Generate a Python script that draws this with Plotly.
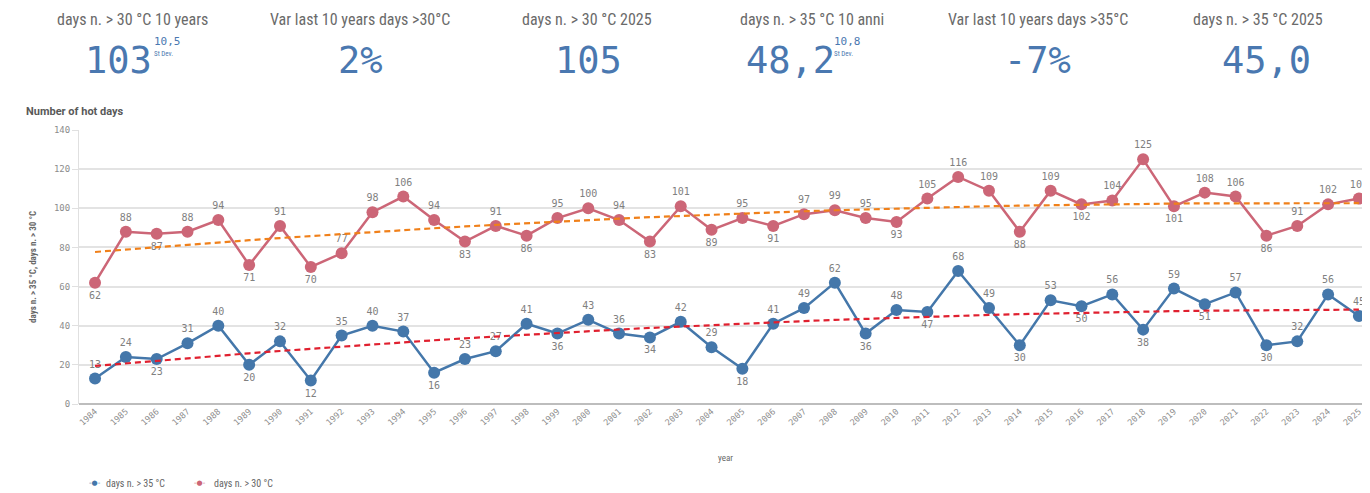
import numpy as np
import plotly.graph_objects as go

years = list(range(1984, 2026))
days_30 = [62, 88, 87, 88, 94, 71, 91, 70, 77, 98, 106, 94, 83, 91, 86, 95, 100, 94, 83, 101, 89,
           95, 91, 97, 99, 95, 93, 105, 116, 109, 88, 109, 102, 104, 125, 101, 108, 106, 86, 91, 102, 105]
days_35 = [13, 24, 23, 31, 40, 20, 32, 12, 35, 40, 37, 16, 23, 27, 41, 36, 43, 36, 34, 42, 29,
           18, 41, 49, 62, 36, 48, 47, 68, 49, 30, 53, 50, 56, 38, 59, 51, 57, 30, 32, 56, 45]

kpi_titles = ["days n. > 30 °C 10 years", "Var last 10 years days >30°C", "days n. > 30 °C 2025",
              "days n. > 35 °C 10 anni", "Var last 10 years days >35°C", "days n. > 35 °C 2025"]
kpi_values = ["103", "2%", "105", "48,2", "-7%", "45,0"]
kpi_stdev = ["10,5", None, None, "10,8", None, None]
series_names = ["days n. > 35 °C", "days n. > 30 °C"]

pos30 = "btbttbtbtttt" + "btbtttbtbtbt" + "ttbtttbtbttb" + "ttbttt"
pos35 = "ttbttbtbtttb" + "tttbttbttbtt" + "tbtbttbtbtbt" + "btbttt"

# the page body has an 8px margin: work in page pixels and convert
OFF = 8
W, H = 1370 - OFF, 493 - OFF
ML, MR, MT = 79 - OFF, 0, 130 - OFF
MB = H - (404 - OFF)
PW, PH = W - ML - MR, H - MT - MB


def px(x):
    return (x - OFF - ML) / PW


def py(y):
    return (H - MB - (y - OFF)) / PH


BLUE = "#4477aa"
RED = "#cc6677"
GREY = "#808080"
KPI_BLUE = "#4a78b0"
MONO = "DejaVu Sans Mono, monospace"
NARROW = "Liberation Sans Narrow, Arial Narrow, Roboto Condensed, sans-serif"

x = np.array(years, dtype=float)
t30 = np.polyval(np.polyfit(x - 1984, days_30, 2), x - 1984)
t35 = np.polyval(np.polyfit(x - 1984, days_35, 2), x - 1984)

fig = go.Figure()
fig.add_trace(go.Scatter(x=years, y=days_35, mode="lines+markers+text", name=series_names[0],
                         line=dict(color=BLUE, width=2.5), marker=dict(color=BLUE, size=12),
                         text=[str(v) for v in days_35], cliponaxis=False,
                         textposition=["top center" if c == "t" else "bottom center" for c in pos35],
                         textfont=dict(family=MONO, size=10, color=GREY)))
fig.add_trace(go.Scatter(x=years, y=days_30, mode="lines+markers+text", name=series_names[1],
                         line=dict(color=RED, width=2.5), marker=dict(color=RED, size=12),
                         text=[str(v) for v in days_30], cliponaxis=False,
                         textposition=["top center" if c == "t" else "bottom center" for c in pos30],
                         textfont=dict(family=MONO, size=10, color=GREY)))
fig.add_trace(go.Scatter(x=years, y=t30, mode="lines", showlegend=False, hoverinfo="skip",
                         line=dict(color="#f0801a", width=2.2, dash="6px,4px")))
fig.add_trace(go.Scatter(x=years, y=t35, mode="lines", showlegend=False, hoverinfo="skip",
                         line=dict(color="#e0202f", width=2.2, dash="6px,4px")))

ann = []
kpi_title_x = [132, 360, 587, 812, 1038, 1258]
kpi_val_x = [118, 360, 588, 790, 1037, 1266]
for i in range(6):
    ann.append(dict(x=px(kpi_title_x[i]), y=py(20), xref="paper", yref="paper", text=kpi_titles[i],
                    showarrow=False, font=dict(family=NARROW, size=16, color="#6a6a6a"),
                    xanchor="center", yanchor="middle"))
    ann.append(dict(x=px(kpi_val_x[i]), y=py(61), xref="paper", yref="paper", text=kpi_values[i],
                    showarrow=False, font=dict(family=MONO, size=37, color=KPI_BLUE),
                    xanchor="center", yanchor="middle"))
sd_x = {0: 152, 3: 832}
for i, xs in sd_x.items():
    ann.append(dict(x=px(xs), y=py(41), xref="paper", yref="paper", text=kpi_stdev[i],
                    showarrow=False, font=dict(family=MONO, size=11, color=KPI_BLUE),
                    xanchor="left", yanchor="middle"))
    ann.append(dict(x=px(xs), y=py(54), xref="paper", yref="paper", text="St Dev.",
                    showarrow=False, font=dict(family=NARROW, size=7, color=KPI_BLUE),
                    xanchor="left", yanchor="middle"))

ann.append(dict(x=px(24), y=py(111), xref="paper", yref="paper", text="<b>Number of hot days</b>",
                showarrow=False, font=dict(family="Roboto, sans-serif", size=11, color="#595959"),
                xanchor="left", yanchor="middle"))
ann.append(dict(x=px(33), y=py(267), xref="paper", yref="paper",
                text="<b>days n. > 35 °C, days n. > 30 °C</b>", textangle=-90,
                showarrow=False, font=dict(family=NARROW, size=9, color="#666666"),
                xanchor="center", yanchor="middle"))
ann.append(dict(x=px(725), y=py(458), xref="paper", yref="paper", text="year",
                showarrow=False, font=dict(family=NARROW, size=9, color="#666666"),
                xanchor="center", yanchor="middle"))
# legend (manual, to match the compact dot + text layout)
leg = [(95, 104, BLUE, series_names[0]), (200, 212, RED, series_names[1])]
for xd, xt, col, name in leg:
    ann.append(dict(x=px(xd), y=py(483), xref="paper", yref="paper", text="-●-",
                    showarrow=False, font=dict(family="DejaVu Sans", size=7, color=col),
                    xanchor="center", yanchor="middle"))
    ann.append(dict(x=px(xt), y=py(483), xref="paper", yref="paper", text=name,
                    showarrow=False, font=dict(family=NARROW, size=10, color="#666666"),
                    xanchor="left", yanchor="middle"))

fig.update_layout(
    width=W, height=H,
    margin=dict(l=ML, r=MR, t=MT, b=MB, autoexpand=False),
    paper_bgcolor="white", plot_bgcolor="white",
    showlegend=False,
    annotations=ann,
    xaxis=dict(range=[1983.48, 2025.36], tickvals=years, ticktext=[str(y) for y in years],
               tickangle=-42, tickfont=dict(family=MONO, size=8.5, color="#8c8c8c"),
               showgrid=False, zeroline=False, showline=False, ticks="", automargin=False),
    yaxis=dict(range=[0, 140], tickvals=[0, 20, 40, 60, 80, 100, 120, 140],
               tickfont=dict(family=MONO, size=9, color="#8c8c8c"),
               gridcolor="#e3e3e3", gridwidth=1.5, zeroline=True, zerolinecolor="#bdbdbd",
               zerolinewidth=2, showline=True, linecolor="#e0e0e0", linewidth=1, ticks="outside",
               ticklen=6, tickcolor="#e0e0e0", automargin=False),
)

fig.write_html("out.html")
